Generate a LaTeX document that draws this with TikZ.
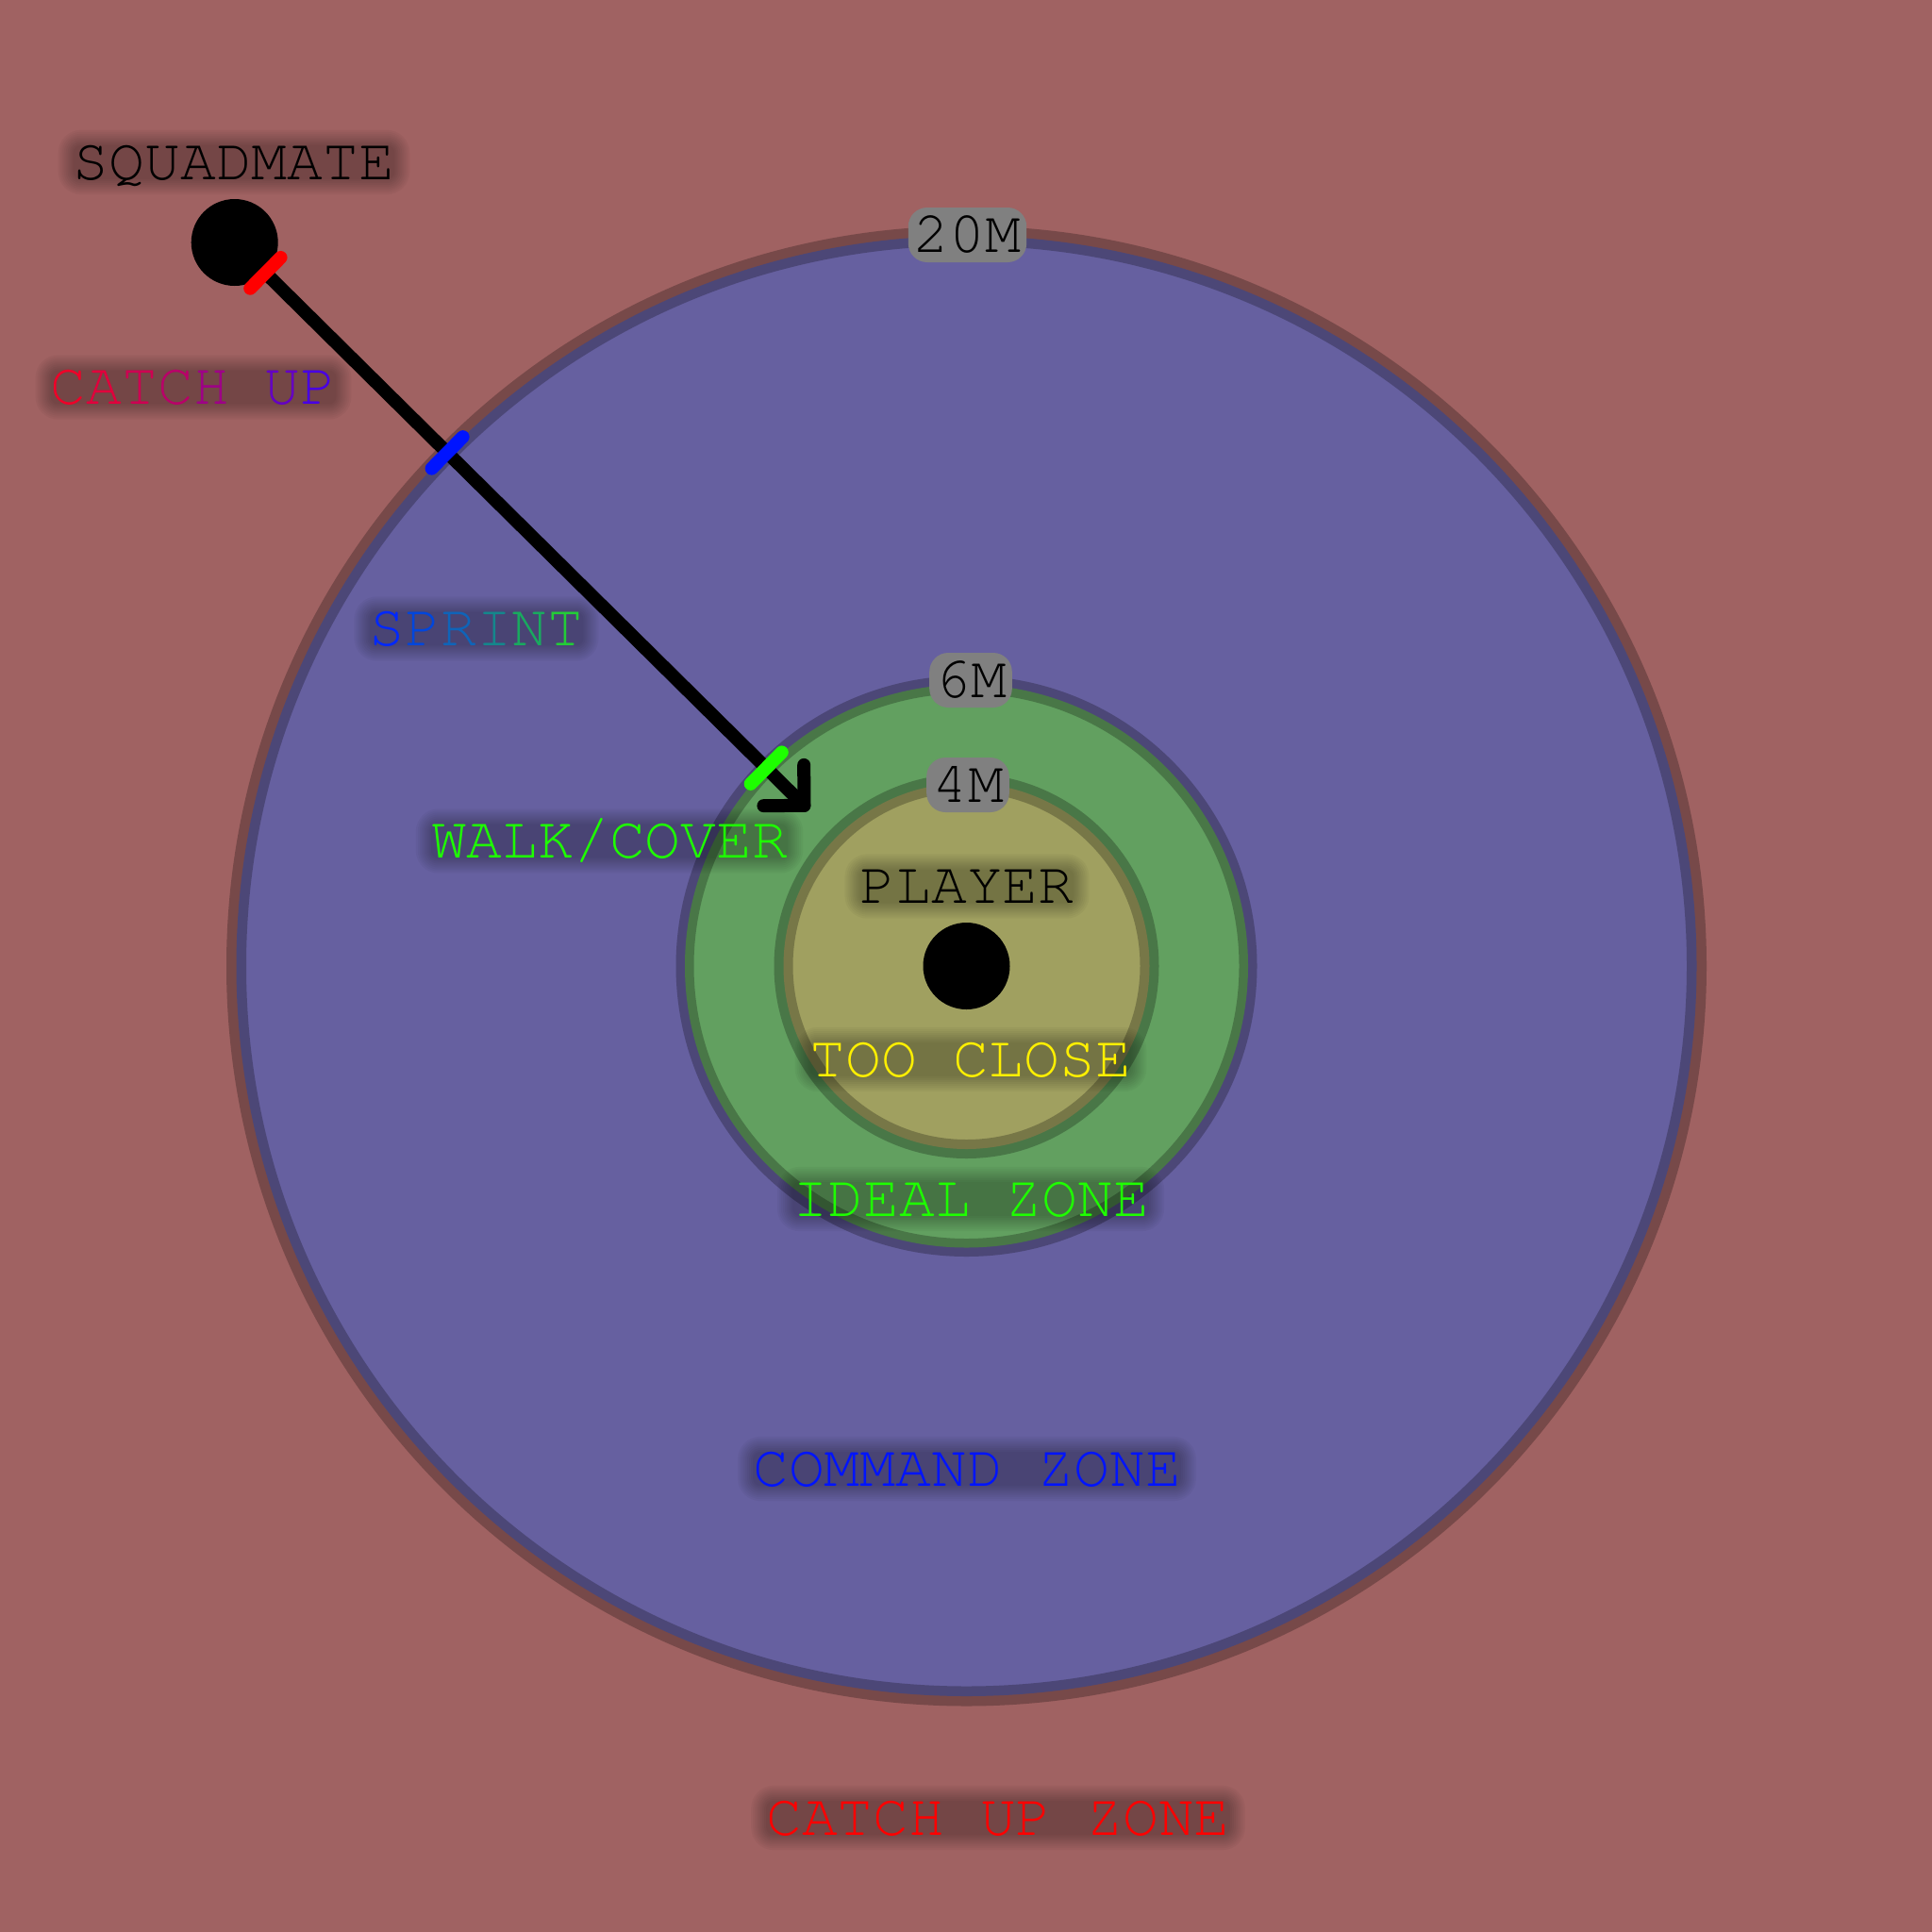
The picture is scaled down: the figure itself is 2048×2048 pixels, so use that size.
\documentclass[tikz,border=0pt]{standalone}
\usepackage[T1,TU]{fontenc}
\usetikzlibrary{calc}
\pgfdeclarelayer{bg}
\pgfdeclarelayer{glowl}
\pgfsetlayers{bg,glowl,main}
\definecolor{bgred}{RGB}{160,98,98}
\definecolor{cmdblue}{RGB}{102,96,160}
\definecolor{idealgreen}{RGB}{98,160,96}
\definecolor{closeyellow}{RGB}{160,160,96}
\definecolor{mgray}{RGB}{128,128,128}
\definecolor{lime}{RGB}{30,255,0}
\definecolor{tyellow}{RGB}{255,240,0}
\definecolor{tblue}{RGB}{0,20,255}
\definecolor{tred}{RGB}{255,0,0}
\definecolor{tickblue}{RGB}{0,20,255}
\tikzset{
  lbl/.style={font=\fontencoding{T1}\fontfamily{pcr}\fontsize{63}{70}\selectfont,
              text height=36pt, text depth=0pt, inner sep=0pt},
  mlbl/.style={lbl, fill=mgray, rounded corners=20pt, inner xsep=6pt, inner ysep=11pt},
  dot/.style={circle, fill=black, minimum size=92pt, inner sep=0pt},
  zone/.style={circle, draw=black, draw opacity=.25, inner sep=0pt},
  conn/.style={line width=14pt, line cap=round, line join=round, draw=black},
  tickmark/.style={line width=14pt, line cap=round},
}
\newcommand\glowbox[1]{%
  \foreach \g in {0,2,4,6,8,10,12,14,16}{%
    \fill[black, opacity=.03, rounded corners=\g pt+8pt]
      ($(#1.south west)+(-\g,\g)$) rectangle ($(#1.north east)+(\g,-\g)$);}}
\begin{document}
\begin{tikzpicture}[x=1pt,y=-1pt]
\useasboundingbox (0,0) rectangle (2048,2048);
\begin{pgfonlayer}{bg}
  \fill[bgred] (0,0) rectangle (2048,2048);
  \node[zone, fill=cmdblue, minimum size=1548pt, line width=21pt] (cmdzone) at (1024.5,1024) {};
  \node[zone, fill=idealgreen, minimum size=597pt, line width=19pt] (idealzone) at (1024.5,1024) {};
  \node[zone, fill=closeyellow, minimum size=388pt, line width=20pt] (closezone) at (1024.5,1024) {};
\end{pgfonlayer}

% dots
\node[dot] (pl) at (1024.5,1024) {};
\node[dot] (sq) at (248.7,257) {};

% route and arrow
\coordinate (tip) at ($(pl.center)!242pt!(sq.center)$);
\draw[conn] (sq) -- (tip);
\draw[conn] ($(tip)!43pt!45:(sq.center)$) -- (tip) -- ($(tip)!43pt!-45:(sq.center)$);

% tick marks
\coordinate (rt) at ($(sq.center)!46pt!(pl.center)$);
\coordinate (bt) at ($(pl.center)!774pt!(sq.center)$);
\coordinate (gt) at ($(pl.center)!298.5pt!(sq.center)$);
\draw[tickmark, red] ($(rt)!23pt!90:(pl.center)$) -- ($(rt)!23pt!-90:(pl.center)$);
\draw[tickmark, tickblue] ($(bt)!23.5pt!90:(pl.center)$) -- ($(bt)!23.5pt!-90:(pl.center)$);
\draw[tickmark, lime] ($(gt)!23.5pt!90:(pl.center)$) -- ($(gt)!23.5pt!-90:(pl.center)$);

% labels
\node[lbl] (sqt) at (248,172) {SQUADMATE};
\node[lbl] (cut) at (205,410.5) {\textcolor[RGB]{240,0,40}{C}\textcolor[RGB]{225,0,60}{A}\textcolor[RGB]{205,0,82}{T}\textcolor[RGB]{185,0,105}{C}\textcolor[RGB]{158,0,135}{H} \textcolor[RGB]{100,0,195}{U}\textcolor[RGB]{72,0,228}{P}};
\node[lbl] (spr) at (505,666.5) {\textcolor[RGB]{0,40,255}{S}\textcolor[RGB]{0,70,220}{P}\textcolor[RGB]{15,100,185}{R}\textcolor[RGB]{20,135,140}{I}\textcolor[RGB]{25,170,95}{N}\textcolor[RGB]{35,205,55}{T}};
\node[lbl, text=lime] (wc) at (646,891.5) {WALK/COVER};
\node[lbl] (plt) at (1025,939.5) {PLAYER};
\node[lbl, text=tyellow] (tc) at (1029,1123) {TOO CLOSE};
\node[lbl, text=lime] (iz) at (1029,1271) {IDEAL ZONE};
\node[lbl, text=tblue] (cz) at (1025,1557) {COMMAND ZONE};
\node[lbl, text=tred] (cuz) at (1058,1927) {CATCH UP ZONE};

\node[mlbl] (m20) at (1025.5,249) {20M};
\node[mlbl] (m6) at (1029,721) {6M};
\node[mlbl] (m4) at (1026,832) {4M};

\begin{pgfonlayer}{glowl}
  \glowbox{sqt}\glowbox{cut}\glowbox{spr}\glowbox{wc}\glowbox{plt}
  \glowbox{tc}\glowbox{iz}\glowbox{cz}\glowbox{cuz}
\end{pgfonlayer}
\end{tikzpicture}
\end{document}
